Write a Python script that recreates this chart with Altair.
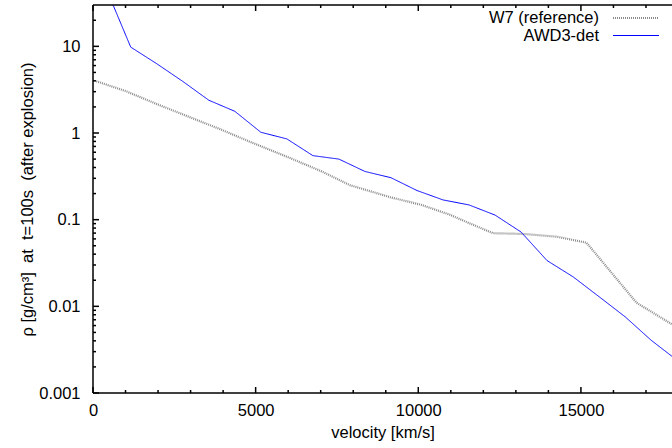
import altair as alt
import pandas as pd

# ---- data ----
series_names = ["W7 (reference)", "AWD3-det"]

awd3_v = [360, 1160, 1960, 2760, 3560, 4360, 5160, 5960, 6760, 7560, 8360, 9160,
          9960, 10760, 11560, 12360, 13160, 13960, 14760, 15560, 16360, 17160, 17960]
awd3_rho = [51, 9.8, 6.3, 3.94, 2.39, 1.78, 1.02, 0.855, 0.548, 0.50, 0.36, 0.305,
            0.217, 0.169, 0.148, 0.113, 0.072, 0.0337, 0.0219, 0.0129, 0.00757, 0.00406, 0.00238]

w7_v = [100, 1000, 2000, 3000, 3900, 4800, 6000, 7000, 7900, 9130, 10100, 10970,
        11600, 12300, 13220, 14250, 15170, 16710, 17800]
w7_rho = [3.96, 3.05, 2.13, 1.51, 1.11, 0.80, 0.525, 0.365, 0.25, 0.182, 0.148, 0.114,
          0.090, 0.0698, 0.0685, 0.0637, 0.0543, 0.0110, 0.0062]

x_major = [0, 5000, 10000, 15000]
x_minor = [v for v in range(1000, 18000, 1000) if v % 5000 != 0]
y_major = [0.001, 0.01, 0.1, 1, 10]
y_minor = [round(k * 10.0 ** e, 6) for e in range(-3, 2) for k in range(2, 10) if k * 10.0 ** e < 30]

df = pd.concat([
    pd.DataFrame({"v": w7_v, "rho": w7_rho, "model": series_names[0]}),
    pd.DataFrame({"v": awd3_v, "rho": awd3_rho, "model": series_names[1]}),
])

FONT = "Liberation Sans"
FS = 16.5
W, H = 579, 388
MAJ, MIN = 6, 3

xs = alt.Scale(domain=[0, 17800], nice=False, zero=False)
ys = alt.Scale(type="log", domain=[0.001, 30], nice=False)

legend = alt.Legend(
    title=None, orient="none", legendX=534, legendY=4,
    symbolType="M-3,0H3", symbolSize=235, labelAlign="right", labelOffset={"expr": "-46"},
    labelFont=FONT, labelFontSize=FS, labelColor="black", rowPadding=0,
    symbolStrokeWidth=1,
)

lines = alt.Chart(df).mark_line(clip=True).encode(
    x=alt.X("v:Q", scale=xs, axis=alt.Axis(
        values=x_major, format="d", ticks=False, domain=False, labels=True, grid=False,
        labelFlush=False, labelPadding=9, title="velocity [km/s]", titlePadding=6)),
    y=alt.Y("rho:Q", scale=ys, axis=alt.Axis(
        values=y_major, format="~g", ticks=False, domain=False, labels=True, grid=False,
        labelFlush=False, labelPadding=13,
        title="ρ [g/cm³]\u00a0 at\u00a0 t=100s\u00a0 (after explosion)",
        titlePadding=3)),
    color=alt.Color("model:N", scale=alt.Scale(domain=series_names, range=["#8a8a8a", "#0000ff"]), legend=legend),
    strokeDash=alt.StrokeDash("model:N", scale=alt.Scale(domain=series_names, range=[[1, 1], [1, 0]]), legend=legend),
    strokeWidth=alt.StrokeWidth("model:N", scale=alt.Scale(domain=series_names, range=[2.2, 1]), legend=legend),
    detail="model:N",
)


def x_ticks(values, y0, y1):
    return alt.Chart(pd.DataFrame({"v": values})).mark_rule().encode(
        x=alt.X("v:Q", scale=xs), y=alt.value(y0), y2=alt.value(y1))


def y_ticks(values, length):
    return alt.Chart(pd.DataFrame({"rho": values})).mark_rule().encode(
        y=alt.Y("rho:Q", scale=ys), x=alt.value(0), x2=alt.value(length))


frame_src = alt.Chart(pd.DataFrame({"k": [0]}))
frame_left = frame_src.mark_rule().encode(
    x=alt.value(0), y=alt.value(0), y2=alt.value(H), strokeWidth=alt.value(2))
frame_bottom = frame_src.mark_rule().encode(
    x=alt.value(0), x2=alt.value(W), y=alt.value(H), strokeWidth=alt.value(2))
frame_top = frame_src.mark_rule().encode(
    x=alt.value(0), x2=alt.value(W), y=alt.value(0), strokeWidth=alt.value(2))

chart = alt.layer(
    lines,
    x_ticks(x_major, H, H - MAJ), x_ticks(x_minor, H, H - MIN),
    x_ticks(x_major, 0, MAJ), x_ticks(x_minor, 0, MIN),
    y_ticks(y_major, MAJ), y_ticks(y_minor, MIN),
    frame_left, frame_bottom, frame_top,
).properties(
    width=W, height=H,
    autosize=alt.AutoSizeParams(type="none"),
    padding={"left": 93, "top": 5, "right": 0, "bottom": 55},
    background="white",
).configure_view(stroke=None).configure_rule(
    color="black", strokeWidth=1.5,
).configure_axis(
    grid=False,
    labelFont=FONT, labelFontSize=FS, labelColor="black",
    titleFont=FONT, titleFontSize=FS, titleColor="black", titleFontWeight="normal",
)

chart.save("out.html", embed_options={"renderer": "svg", "actions": False})
